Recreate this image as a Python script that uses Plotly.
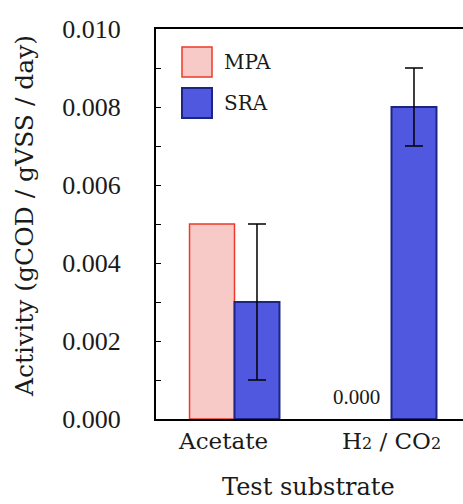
import plotly.graph_objects as go

# Specific activity per test substrate
substrates = ["Acetate", "H2/CO2"]
substrate_labels = [
    "Acetate\u00a0\u00a0\u00a0",
    "H<span style='font-size:16px'>2</span> / CO<span style='font-size:16px'>2</span>",
]
mpa = [0.005, 0.000]
sra = [0.003, 0.008]
sra_err = [0.002, 0.001]

NUM_FONT = "Liberation Serif, serif"
TXT_FONT = "DejaVu Serif, serif"
INK = "#1a1a1a"

MPA_FILL, MPA_LINE = "#F7CAC8", "#EE3A2A"
SRA_FILL, SRA_LINE = "#5058DF", "#1C2582"

fig = go.Figure()
fig.add_trace(go.Bar(
    name="MPA", x=substrates, y=mpa,
    marker=dict(color=MPA_FILL,
                line=dict(color=MPA_LINE, width=[1.5 if v > 0 else 0 for v in mpa])),
    showlegend=False,
))
fig.add_trace(go.Bar(
    name="SRA", x=substrates, y=sra,
    marker=dict(color=SRA_FILL, line=dict(color=SRA_LINE, width=2)),
    error_y=dict(type="data", array=sra_err, visible=True,
                 color="black", thickness=1.5, width=9),
    showlegend=False,
))

# value label for the zero-height MPA bar
fig.add_annotation(
    x=substrates[1], y=mpa[1], xref="x", yref="y",
    text=f"{mpa[1]:.3f}", showarrow=False,
    xshift=-35, yshift=22, yanchor="middle",
    font=dict(family=NUM_FONT, size=21, color=INK),
)

# plot box in pixels
L, T, W, H = 156, 29, 307, 390
def px(x):
    return (x - L) / W
def py(y):
    return (T + H - y) / H

# legend swatches and labels
for name, fill, line, lw, y0, y1 in [
    ("MPA", MPA_FILL, MPA_LINE, 1.5, 47, 77),
    ("SRA", SRA_FILL, SRA_LINE, 2, 88, 118),
]:
    fig.add_shape(type="rect", xref="paper", yref="paper",
                  x0=px(182), x1=px(212), y0=py(y1), y1=py(y0),
                  fillcolor=fill, line=dict(color=line, width=lw))
    fig.add_annotation(xref="paper", yref="paper", x=px(222), y=py((y0 + y1) / 2),
                       text=name, showarrow=False, xanchor="left", yanchor="middle",
                       font=dict(family=TXT_FONT, size=20, color=INK))

# axis titles
fig.add_annotation(xref="paper", yref="paper", x=px(25), y=py(216),
                   text="Activity (gCOD / gVSS / day)", textangle=-90, showarrow=False,
                   xanchor="center", yanchor="middle",
                   font=dict(family=TXT_FONT, size=25, color=INK))
fig.add_annotation(xref="paper", yref="paper", x=px(308), y=py(503),
                   text="Test substrate", showarrow=False,
                   xanchor="center", yanchor="bottom",
                   font=dict(family=TXT_FONT, size=24, color=INK))

fig.update_layout(
    width=463, height=504,
    margin=dict(l=L, r=463 - L - W, t=T, b=504 - T - H),
    paper_bgcolor="white", plot_bgcolor="white",
    barmode="group", bargap=0.427, bargroupgap=0,
    font=dict(family=TXT_FONT, color=INK),
)
fig.update_xaxes(
    range=[-0.5, -0.5 + W / 157], tickvals=substrates, ticktext=substrate_labels,
    showline=True, linecolor="black", linewidth=2, mirror=True,
    ticks="", showgrid=False, zeroline=False,
    tickfont=dict(family=TXT_FONT, size=23, color=INK),
)
fig.update_yaxes(
    range=[0, 0.010], dtick=0.002, tickformat=".3f",
    showline=True, linecolor="black", linewidth=2,
    ticks="inside", ticklen=5, tickcolor="black", tickwidth=1,
    minor=dict(dtick=0.001, ticks="inside", ticklen=5, tickcolor="black", tickwidth=1),
    ticklabelstandoff=28,
    showgrid=False, zeroline=False,
    tickfont=dict(family=NUM_FONT, size=26, color=INK),
)

fig.write_html("out.html")
